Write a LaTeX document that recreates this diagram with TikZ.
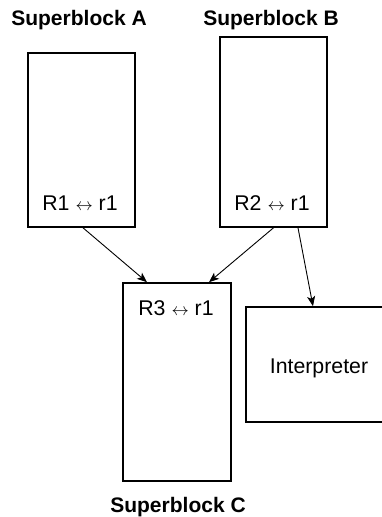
\documentclass[tikz,border=0pt]{standalone}
\usepackage{fontspec}
\setmainfont{Liberation Sans}
\usetikzlibrary{arrows.meta}
\tikzset{
  blockbox/.style={draw, line width=1.6pt, inner sep=0pt},
  lbl/.style={anchor=base, inner sep=0pt, font=\fontsize{21.3}{24}\selectfont},
  title/.style={anchor=base, inner sep=0pt, font=\fontsize{21}{24}\selectfont\bfseries},
  conn/.style={line width=0.9pt, -{Stealth[length=10pt,width=8pt,inset=2.5pt]}}
}
\newcommand{\lra}{{\fontsize{19}{19}\selectfont$\leftrightarrow$}}
\begin{document}
\begin{tikzpicture}[x=1pt,y=-1pt]
\useasboundingbox (0,0) rectangle (382,517);
\clip (0,0) rectangle (382,517);
\node[blockbox, minimum width=107pt, minimum height=174pt] (A) at (81.5,140) {};
\node[blockbox, minimum width=107pt, minimum height=190pt] (B) at (273.5,132) {};
\node[blockbox, minimum width=108pt, minimum height=198pt] (C) at (177,382) {};
\node[blockbox, minimum width=174pt, minimum height=115pt] (I) at (333,364.5) {};
\node[title] (tA) at (79,25) {Superblock A};
\node[title] (tB) at (271,25) {Superblock B};
\node[title] (tC) at (178,512) {Superblock C};
\node[lbl] (rA) at (80,210) {R1 \lra{} r1};
\node[lbl] (rB) at (272,210) {R2 \lra{} r1};
\node[lbl] (rC) at (176,315) {R3 \lra{} r1};
\node[lbl] (tI) at (319,373) {Interpreter};
\draw[conn] ([xshift=1.5pt]A.south) -- ([xshift=-30pt]C.north);
\draw[conn] (B.south) -- ([xshift=32pt]C.north);
\draw[conn] ([xshift=24.5pt]B.south) -- ([xshift=-20pt]I.north);
\end{tikzpicture}
\end{document}
